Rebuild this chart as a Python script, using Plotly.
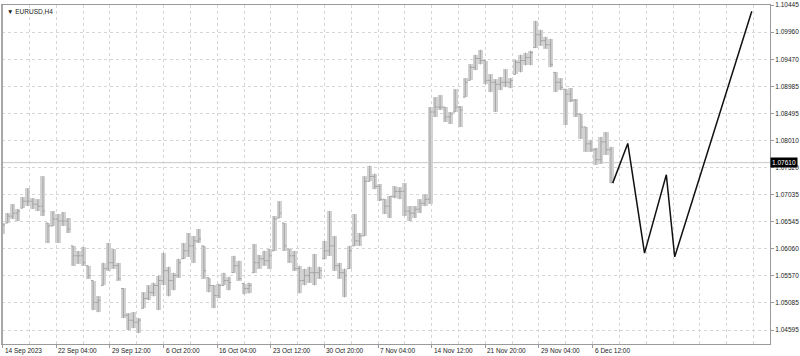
import plotly.graph_objects as go

# ---- data (EURUSD H4, one entry per 3 H4 bars) ----
high = [1.06522, 1.06701, 1.06861, 1.06772, 1.06986, 1.07147, 1.06968, 1.06950, 1.07361, 1.06522,
        1.06737, 1.06683, 1.06719, 1.06612, 1.06112, 1.06023, 1.06094, 1.05756, 1.05488, 1.05202,
        1.05809, 1.06165, 1.06058, 1.05809, 1.05345, 1.04899, 1.04917, 1.04810, 1.05273, 1.05399,
        1.05452, 1.05577, 1.05987, 1.05738, 1.05630, 1.05880, 1.06165, 1.06344, 1.06291, 1.06415,
        1.06112, 1.05541, 1.05399, 1.05434, 1.05630, 1.05559, 1.05934, 1.05845, 1.05434, 1.05452,
        1.06147, 1.05952, 1.06023, 1.06058, 1.06648, 1.06915, 1.06522, 1.06058, 1.06023, 1.05756,
        1.05702, 1.05738, 1.05969, 1.05738, 1.06201, 1.06737, 1.06291, 1.05809, 1.05702, 1.06112,
        1.06683, 1.06344, 1.07361, 1.07558, 1.07414, 1.07218, 1.06950, 1.07004, 1.07183, 1.07165,
        1.07236, 1.06826, 1.06826, 1.06950, 1.07039, 1.08610, 1.08788, 1.08823, 1.08610, 1.08521,
        1.08931, 1.08628, 1.09127, 1.09377, 1.09555, 1.09644, 1.09448, 1.09198, 1.09109, 1.09145,
        1.09288, 1.09127, 1.09466, 1.09555, 1.09591, 1.09626, 1.10162, 1.10001, 1.09877, 1.09841,
        1.09234, 1.09127, 1.08931, 1.08949, 1.08752, 1.08485, 1.08253, 1.08021, 1.07878, 1.08075,
        1.08164, 1.07896]
low = [1.06326, 1.06522, 1.06594, 1.06558, 1.06790, 1.06826, 1.06772, 1.06737, 1.06648, 1.06165,
       1.06469, 1.06165, 1.06469, 1.06344, 1.05756, 1.05791, 1.05756, 1.05523, 1.04953, 1.04917,
       1.05399, 1.05666, 1.05702, 1.05488, 1.04810, 1.04596, 1.04631, 1.04542, 1.04988, 1.05131,
       1.05202, 1.04953, 1.05399, 1.05202, 1.05309, 1.05541, 1.05880, 1.05916, 1.05809, 1.06165,
       1.05523, 1.05273, 1.04988, 1.05166, 1.05399, 1.05309, 1.05630, 1.05488, 1.05238, 1.05255,
       1.05630, 1.05702, 1.05756, 1.05702, 1.06023, 1.06612, 1.06023, 1.05809, 1.05666, 1.05255,
       1.05399, 1.05452, 1.05399, 1.05523, 1.05880, 1.05934, 1.05666, 1.05523, 1.05184, 1.05702,
       1.06112, 1.06112, 1.06291, 1.07272, 1.07129, 1.06915, 1.06683, 1.06612, 1.06968, 1.06950,
       1.06648, 1.06558, 1.06612, 1.06701, 1.06826, 1.06861, 1.08432, 1.08556, 1.08342, 1.08306,
       1.08521, 1.08253, 1.08788, 1.09091, 1.09270, 1.09377, 1.09020, 1.08877, 1.08521, 1.08913,
       1.08967, 1.08949, 1.09198, 1.09234, 1.09359, 1.09359, 1.09680, 1.09715, 1.09662, 1.09324,
       1.08877, 1.08913, 1.08288, 1.08699, 1.08432, 1.08039, 1.07807, 1.07807, 1.07575, 1.07593,
       1.07753, 1.07236]
close = [1.06487, 1.06648, 1.06701, 1.06737, 1.06915, 1.06915, 1.06861, 1.06826, 1.06737, 1.06469,
         1.06594, 1.06558, 1.06558, 1.06415, 1.05934, 1.05934, 1.05809, 1.05577, 1.05095, 1.05131,
         1.05702, 1.05809, 1.05756, 1.05523, 1.04864, 1.04774, 1.04738, 1.04774, 1.05166, 1.05273,
         1.05399, 1.05488, 1.05666, 1.05488, 1.05577, 1.05809, 1.06023, 1.06112, 1.06201, 1.06237,
         1.05666, 1.05399, 1.05220, 1.05399, 1.05488, 1.05452, 1.05756, 1.05523, 1.05345, 1.05399,
         1.05809, 1.05880, 1.05845, 1.05934, 1.06594, 1.06701, 1.06112, 1.05934, 1.05702, 1.05488,
         1.05577, 1.05630, 1.05630, 1.05666, 1.06023, 1.06112, 1.05756, 1.05630, 1.05577, 1.06023,
         1.06201, 1.06291, 1.07272, 1.07361, 1.07183, 1.06950, 1.06826, 1.07004, 1.07093, 1.07093,
         1.06737, 1.06701, 1.06772, 1.06879, 1.06950, 1.08521, 1.08610, 1.08610, 1.08432, 1.08485,
         1.08610, 1.08556, 1.09056, 1.09324, 1.09484, 1.09448, 1.09091, 1.09056, 1.09020, 1.09056,
         1.09056, 1.09091, 1.09413, 1.09448, 1.09502, 1.09591, 1.09912, 1.09805, 1.09733, 1.09377,
         1.09056, 1.08967, 1.08841, 1.08734, 1.08485, 1.08253, 1.07949, 1.07842, 1.07664, 1.07985,
         1.07842, 1.07254]
first_open = 1.06400
bar_step = 3  # H4 bars per entry

# projected zigzag (bar index, price)
zig_x = [364, 373, 383, 396, 401, 447]
zig_y = [1.07241, 1.07955, 1.05981, 1.07391, 1.05915, 1.10335]

bid = 1.07610

x_tick_vals = [0, 32, 64, 96, 128, 160, 192, 224, 256, 288, 320, 352]
x_tick_text = ["14 Sep 2023", "22 Sep 04:00", "29 Sep 12:00", "6 Oct 20:00", "16 Oct 04:00",
               "23 Oct 12:00", "30 Oct 20:00", "7 Nov 04:00", "14 Nov 12:00", "21 Nov 20:00",
               "29 Nov 04:00", "6 Dec 12:00"]
x_grid_extra = [16, 48, 80, 112, 144, 176, 208, 240, 272, 304, 336, 368, 384, 400, 416, 432, 448]

y_tick_vals = [1.10445, 1.09960, 1.09470, 1.08985, 1.08495, 1.08010, 1.07520, 1.07035,
               1.06545, 1.06060, 1.05570, 1.05085, 1.04595]
y_tick_text = ["%.5f" % v for v in y_tick_vals]

# ---- build ----
x_bars = [k * bar_step for k in range(len(close))]
opens = []
prev = first_open
for h, l, c in zip(high, low, close):
    opens.append(min(max(prev, l), h))
    prev = c

FONT = "Liberation Sans"
GRID = "#d6d6d6"
AXIS = "#9a9a9a"

fig = go.Figure()
fig.add_trace(go.Bar(x=x_bars, y=[h - l for h, l in zip(high, low)], base=low,
                     width=bar_step, marker=dict(color="#d2d2d2", line=dict(width=0)),
                     hoverinfo="skip", showlegend=False))
fig.add_trace(go.Ohlc(x=x_bars, open=opens, high=high, low=low, close=close,
                      increasing=dict(line=dict(color="#a2a2a2", width=1)),
                      decreasing=dict(line=dict(color="#a2a2a2", width=1)),
                      tickwidth=0.45, showlegend=False))
fig.add_trace(go.Scatter(x=zig_x, y=zig_y, mode="lines",
                         line=dict(color="#111111", width=1.5), showlegend=False))

fig.add_shape(type="line", xref="paper", x0=0, x1=1, yref="y", y0=bid, y1=bid,
              line=dict(color="#c8c8c8", width=1), layer="below")
# thicker left frame edge as in the terminal window
fig.add_shape(type="line", xref="paper", x0=0, x1=0, yref="paper", y0=0, y1=1,
              line=dict(color="#a8a8a8", width=2))

for v, t in zip(x_tick_vals, x_tick_text):
    fig.add_annotation(x=v, xref="x", y=0, yref="paper", text=t, showarrow=False,
                       xanchor="left", yanchor="top", xshift=0, yshift=-1,
                       font=dict(family=FONT, size=6.5, color="#222222"))

fig.add_annotation(x=1, xref="paper", y=bid, yref="y", text="1.07610", showarrow=False,
                   xanchor="left", yanchor="middle", bgcolor="#000000", borderpad=1,
                   font=dict(family=FONT, size=6.5, color="#ffffff"))
fig.add_annotation(x=0.004, xref="paper", y=1, yref="paper", text="▼ EURUSD,H4",
                   showarrow=False, xanchor="left", yanchor="top", yshift=-1,
                   font=dict(family=FONT, size=6.5, color="#222222"))

fig.update_layout(
    width=800, height=356,
    margin=dict(l=1, r=30, t=2, b=12),
    paper_bgcolor="white", plot_bgcolor="white",
    bargap=0, showlegend=False,
    xaxis=dict(range=[-0.42, 457.87], tickmode="array", tickvals=x_tick_vals,
               ticktext=[""] * len(x_tick_vals), ticks="outside", ticklen=3,
               tickcolor=AXIS, showgrid=True, gridcolor=GRID, griddash="dot",
               gridwidth=1, zeroline=False, showline=True, linecolor=AXIS,
               linewidth=1, mirror=True, rangeslider=dict(visible=False),
               minor=dict(tickmode="array", tickvals=x_grid_extra, showgrid=True,
                          gridcolor=GRID, griddash="dot", ticks="")),
    yaxis=dict(range=[1.04346, 1.10447], side="right", tickmode="array",
               tickvals=y_tick_vals, ticktext=y_tick_text, ticks="outside",
               ticklen=3, tickcolor=AXIS, showgrid=True, gridcolor=GRID,
               griddash="dot", zeroline=False, showline=True, linecolor=AXIS,
               linewidth=1, mirror=True, ticklabeloverflow="allow",
               tickfont=dict(family=FONT, size=6.5, color="#222222")),
)

fig.write_html("out.html")
